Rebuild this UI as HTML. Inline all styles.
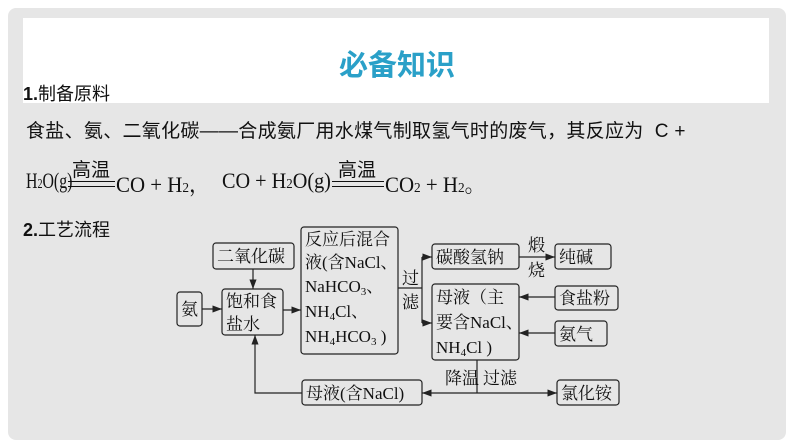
<!DOCTYPE html>
<html><head><meta charset="utf-8"><style>
body{margin:0;width:794px;height:447px;background:#fff;overflow:hidden;font-family:"Liberation Sans","Noto Sans CJK SC",sans-serif;}
.card{position:absolute;left:8px;top:8px;width:778px;height:432px;background:#e6e6e6;border-radius:8px;}
.white{position:absolute;left:23px;top:18px;width:746px;height:85px;background:#fff;}
.t{position:absolute;white-space:nowrap;color:#111;}
.f{font-family:"Liberation Serif","Noto Serif CJK SC",serif;font-size:22px;transform-origin:0 0;}
.s{font-size:14px;}
.eq{position:absolute;height:4px;border-top:1px solid #111;border-bottom:1px solid #111;}
svg text{font-family:"Liberation Serif","Noto Serif CJK SC",serif;font-size:17px;fill:#111;}
</style></head><body>
<div class="card"></div>
<div class="white"></div>
<div class="t" style="left:0;width:794px;text-align:center;top:42px;font-size:29px;font-weight:bold;color:#2aa0c8;">必备知识</div>
<div class="t" style="left:23px;top:80px;font-size:18px;"><b>1.</b>制备原料</div>
<div class="t" style="left:26px;top:116px;font-size:19px;letter-spacing:0.3px">食盐、氨、二氧化碳——合成氨厂用水煤气制取氢气时的废气，其反应为&nbsp; C +</div>
<div class="t f" style="left:26px;top:168px;transform:scaleX(0.72)">H<span class="s">2</span>O(g)</div>
<div class="t" style="left:72px;top:155px;font-size:19px;">高温</div>
<div class="eq" style="left:68px;top:181px;width:47px;"></div>
<div class="t f" style="left:116px;top:168px;transform:scaleX(0.95)">CO + H<span class="s">2</span>，</div>
<div class="t f" style="left:222px;top:168px;transform:scaleX(0.92)">CO + H<span class="s">2</span>O(g)</div>
<div class="t" style="left:338px;top:155px;font-size:19px;">高温</div>
<div class="eq" style="left:332px;top:181px;width:52px;"></div>
<div class="t f" style="left:385px;top:168px;transform:scaleX(0.95)">CO<span class="s">2</span> + H<span class="s">2</span>。</div>
<div class="t" style="left:23px;top:216px;font-size:18px;"><b>2.</b>工艺流程</div>
<svg width="794" height="447" style="position:absolute;left:0;top:0">
<defs><marker id="a" markerWidth="8" markerHeight="6" refX="8" refY="3" orient="auto"><path d="M0,0L8,3L0,6z" fill="#222"/></marker></defs>
<g fill="none" stroke="#222" stroke-width="1.2">
<rect x="213" y="243" width="81" height="26" rx="3"/>
<rect x="177" y="292" width="25" height="34" rx="3"/>
<rect x="222" y="289" width="61" height="46" rx="3"/>
<rect x="301" y="227" width="97" height="127" rx="3"/>
<rect x="432" y="244" width="87" height="25" rx="3"/>
<rect x="555" y="244" width="56" height="25" rx="3"/>
<rect x="432" y="284" width="87" height="76" rx="3"/>
<rect x="555" y="286" width="63" height="24" rx="3"/>
<rect x="555" y="321" width="52" height="25" rx="3"/>
<rect x="302" y="380" width="120" height="25" rx="3"/>
<rect x="557" y="380" width="62" height="25" rx="3"/>
<path d="M202 309H222" marker-end="url(#a)"/>
<path d="M253 269V289" marker-end="url(#a)"/>
<path d="M283 310H301" marker-end="url(#a)"/>
<path d="M398 288H422M422 257V323"/>
<path d="M422 257H432" marker-end="url(#a)"/>
<path d="M422 323H432" marker-end="url(#a)"/>
<path d="M519 257H555" marker-end="url(#a)"/>
<path d="M555 297H519" marker-end="url(#a)"/>
<path d="M555 333H519" marker-end="url(#a)"/>
<path d="M477 360V393"/>
<path d="M477 393H422" marker-end="url(#a)"/>
<path d="M477 393H557" marker-end="url(#a)"/>
<path d="M302 393H255V335" marker-end="url(#a)"/>
</g>
<text x="217" y="262">二氧化碳</text>
<text x="181" y="315">氨</text>
<text x="226" y="307">饱和食</text><text x="226" y="330">盐水</text>
<text x="305" y="245">反应后混合</text>
<text x="305" y="268">液(含NaCl、</text>
<text x="305" y="292">NaHCO<tspan font-size="11" dy="3">3</tspan><tspan dy="-3">、</tspan></text>
<text x="305" y="317">NH<tspan font-size="11" dy="3">4</tspan><tspan dy="-3">Cl、</tspan></text>
<text x="305" y="342">NH<tspan font-size="11" dy="3">4</tspan><tspan dy="-3">HCO</tspan><tspan font-size="11" dy="3">3</tspan><tspan dy="-3"> )</tspan></text>
<text x="402" y="284">过</text><text x="402" y="308">滤</text>
<text x="436" y="263">碳酸氢钠</text>
<text x="528" y="251">煅</text><text x="528" y="276">烧</text>
<text x="559" y="263">纯碱</text>
<text x="436" y="303">母液（主</text>
<text x="436" y="328">要含NaCl、</text>
<text x="436" y="353">NH<tspan font-size="11" dy="3">4</tspan><tspan dy="-3">Cl )</tspan></text>
<text x="559" y="304">食盐粉</text>
<text x="559" y="340">氨气</text>
<text x="445" y="384">降温</text><text x="483" y="384">过滤</text>
<text x="306" y="399">母液(含NaCl)</text>
<text x="561" y="399">氯化铵</text>
</svg>
</body></html>
